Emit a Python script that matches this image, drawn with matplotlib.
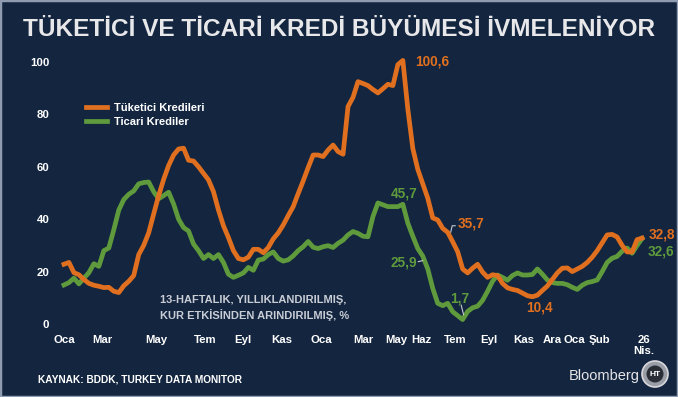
import matplotlib
matplotlib.use('Agg')
import matplotlib.pyplot as plt
from matplotlib.lines import Line2D
from matplotlib.patches import Rectangle, Circle

plt.rcParams['font.family'] = ['Liberation Sans', 'DejaVu Sans']

# haftalik veri (13 haftalik, yilliklandirilmis, %)
tuketici = [22.8, 23.5, 19.6, 18.8, 17.0, 15.5, 14.8, 14.4, 13.9, 14.0,
            12.5, 12.0, 14.6, 16.3, 18.5, 26.5, 30.0, 34.8, 42.0, 49.0,
            55.2, 60.5, 64.5, 66.8, 67.1, 62.5, 62.2, 60.0, 57.5, 55.0,
            50.5, 43.5, 37.5, 33.0, 28.0, 25.0, 24.5, 25.5, 28.5, 28.5,
            27.2, 29.2, 32.5, 34.8, 37.8, 41.4, 44.8, 49.8, 54.6, 59.7,
            64.5, 64.5, 63.9, 66.4, 68.3, 65.8, 64.8, 83.0, 86.5, 92.5,
            91.8, 91.0, 89.5, 88.2, 89.8, 91.5, 91.0, 99.0, 100.6, 82.0,
            67.0, 59.0, 53.5, 48.0, 40.5, 39.7, 36.5, 35.0, 31.4, 27.6,
            21.0, 19.5, 21.3, 22.8, 19.8, 17.8, 18.8, 18.5, 15.5, 13.8,
            13.2, 12.8, 11.8, 10.8, 10.4, 11.0, 12.8, 14.5, 17.0, 19.5,
            21.3, 21.4, 20.0, 21.0, 22.0, 23.5, 25.5, 28.0, 31.0, 34.0,
            34.2, 33.2, 30.0, 27.5, 27.5, 32.2, 32.8]
ticari = [14.9, 15.8, 17.5, 15.3, 17.5, 19.6, 23.0, 22.0, 28.0, 29.0,
          36.0, 43.5, 47.5, 49.5, 50.8, 53.5, 54.0, 54.2, 50.5, 47.8,
          49.0, 50.3, 45.8, 40.0, 36.8, 35.5, 30.5, 28.0, 25.0, 26.5,
          25.0, 26.5, 23.5, 19.0, 17.8, 18.6, 19.5, 21.6, 20.5, 24.4,
          24.8, 26.5, 27.5, 25.0, 24.0, 24.5, 26.0, 28.0, 29.5, 31.5,
          29.3, 28.8, 29.5, 29.9, 29.2, 30.8, 32.0, 34.0, 35.3, 34.6,
          33.5, 33.3, 41.0, 46.2, 45.5, 44.8, 44.8, 44.8, 45.7, 38.5,
          33.5, 28.8, 25.9, 21.0, 13.6, 7.9, 7.0, 7.9, 4.7, 3.2,
          1.7, 4.8, 6.2, 6.8, 9.0, 12.5, 16.3, 18.7, 17.8, 16.7,
          18.5, 19.5, 18.7, 18.7, 18.9, 21.0, 19.0, 16.8, 15.8, 15.5,
          15.5, 15.0, 14.0, 13.2, 14.8, 15.8, 16.2, 16.8, 20.0, 23.5,
          25.1, 25.8, 27.8, 29.0, 27.0, 30.0, 32.6]

tick_pos = [0, 7.8, 18.5, 28.3, 35.9, 43.8, 51.6, 60, 66.7, 71.7, 78.5,
            85.3, 92.2, 98, 102.4, 107.4, 116.3]
tick_labels = ['Oca', 'Mar', 'May', 'Tem', 'Eyl', 'Kas', 'Oca', 'Mar', 'May',
               'Haz', 'Tem', 'Eyl', 'Kas', 'Ara', 'Oca', 'Şub', '26\nNis.']

BG = '#13253f'
ORANGE = '#e0701f'
GREEN = '#5f9b3c'
W, H = 678, 397

fig = plt.figure(figsize=(W / 100, H / 100), dpi=100, facecolor=BG)
ax = fig.add_axes([55 / W, 1 - 324 / H, 605 / W, 262 / H])
ax.set_facecolor(BG)

x = list(range(len(tuketici)))
ax.plot(x, tuketici, color=ORANGE, lw=3.4, solid_joinstyle='round', clip_on=False, zorder=3)
ax.plot(x, ticari, color=GREEN, lw=3.4, solid_joinstyle='round', clip_on=False, zorder=2)

ax.set_xlim(-1.8, 119.6)
ax.set_ylim(0, 100)
for s in ax.spines.values():
    s.set_visible(False)
ax.set_yticks([0, 20, 40, 60, 80, 100])
ax.set_xticks(tick_pos)
ax.set_xticklabels(tick_labels, linespacing=1.1)
ax.tick_params(axis='both', length=0, colors='white', labelsize=8.2)
ax.tick_params(axis='x', pad=8)
ax.tick_params(axis='y', pad=4)
for lab in ax.get_xticklabels() + ax.get_yticklabels():
    lab.set_fontweight('bold')

# lejant
handles = [Line2D([0], [0], color=ORANGE, lw=3.4),
           Line2D([0], [0], color=GREEN, lw=3.4)]
leg = fig.legend(handles, ['Tüketici Kredileri', 'Ticari Krediler'], loc='upper left',
                 bbox_to_anchor=(86 / W, 1 - 103 / H), frameon=False, handlelength=1.9,
                 handletextpad=0.6, labelspacing=0.35, borderpad=0, borderaxespad=0,
                 prop={'weight': 'bold', 'size': 8})
for t in leg.get_texts():
    t.set_color('white')

# deger etiketleri
lbl = dict(fontsize=9.8, fontweight='bold')
ax.text(70.5, 100, '100,6', color=ORANGE, ha='left', va='center', **lbl)
ax.text(78.9, 38.5, '35,7', color=ORANGE, ha='left', va='center', **lbl)
ax.plot([77.6, 77.9, 78.5], [35.0, 37.5, 37.5], color='#c8ccd4', lw=0.8)
ax.text(68.3, 49.8, '45,7', color=GREEN, ha='center', va='center', **lbl)
ax.text(70.8, 23.5, '25,9', color=GREEN, ha='right', va='center', **lbl)
ax.plot([71.1, 72.0], [23.8, 24.2], color='#c8ccd4', lw=0.8)
ax.text(79.5, 9.6, '1,7', color=GREEN, ha='center', va='center', **lbl)
ax.plot([79.7, 80.2], [7.2, 3.5], color='#c8ccd4', lw=0.8)
ax.text(95.4, 6.2, '10,4', color=ORANGE, ha='center', va='center', **lbl)
ax.text(117.3, 34.2, '32,8', color=ORANGE, ha='left', va='center', clip_on=False, **lbl)
ax.text(117.1, 27.6, '32,6', color=GREEN, ha='left', va='center', clip_on=False, **lbl)

fig.text(160 / W, 1 - 308 / H, '13-HAFTALIK, YILLIKLANDIRILMIŞ,\nKUR ETKİSİNDEN ARINDIRILMIŞ, %',
         color='#c9cdd6', fontsize=8, fontweight='bold', ha='left', va='center', linespacing=1.45)

# baslik ve kaynak
fig.text(0.5, 1 - 30 / H, 'TÜKETİCİ VE TİCARİ KREDİ BÜYÜMESİ İVMELENİYOR',
         color='#e8e8ea', fontsize=17.6, fontweight='bold', ha='center', va='center')
fig.text(38 / W, 1 - 380 / H, 'KAYNAK: BDDK, TURKEY DATA MONITOR', color='white',
         fontsize=7.3, fontweight='bold', ha='left', va='center')
fig.text(640 / W, 1 - 376 / H, 'Bloomberg', color='#e6e6e8', fontsize=10.5,
         ha='right', va='center')
# logo (inch koordinatlari)
cx, cy = 6.55, (H - 374) / 100
fig.patches.append(Circle((cx, cy), 0.13, transform=fig.dpi_scale_trans,
                          facecolor='#9a9ea6', edgecolor='#d8d8dc', lw=1.2))
fig.patches.append(Circle((cx, cy), 0.085, transform=fig.dpi_scale_trans,
                          facecolor='#2a2e36', edgecolor='none'))
fig.text(655 / W, 1 - 374 / H, 'HT', color='white', fontsize=6, fontweight='bold',
         ha='center', va='center')

fig.patches.append(Rectangle((0, 0), 1, 1, transform=fig.transFigure, fill=False,
                             edgecolor='#8e9bb0', lw=2.5))

fig.savefig('out.png', dpi=100, facecolor=BG)
